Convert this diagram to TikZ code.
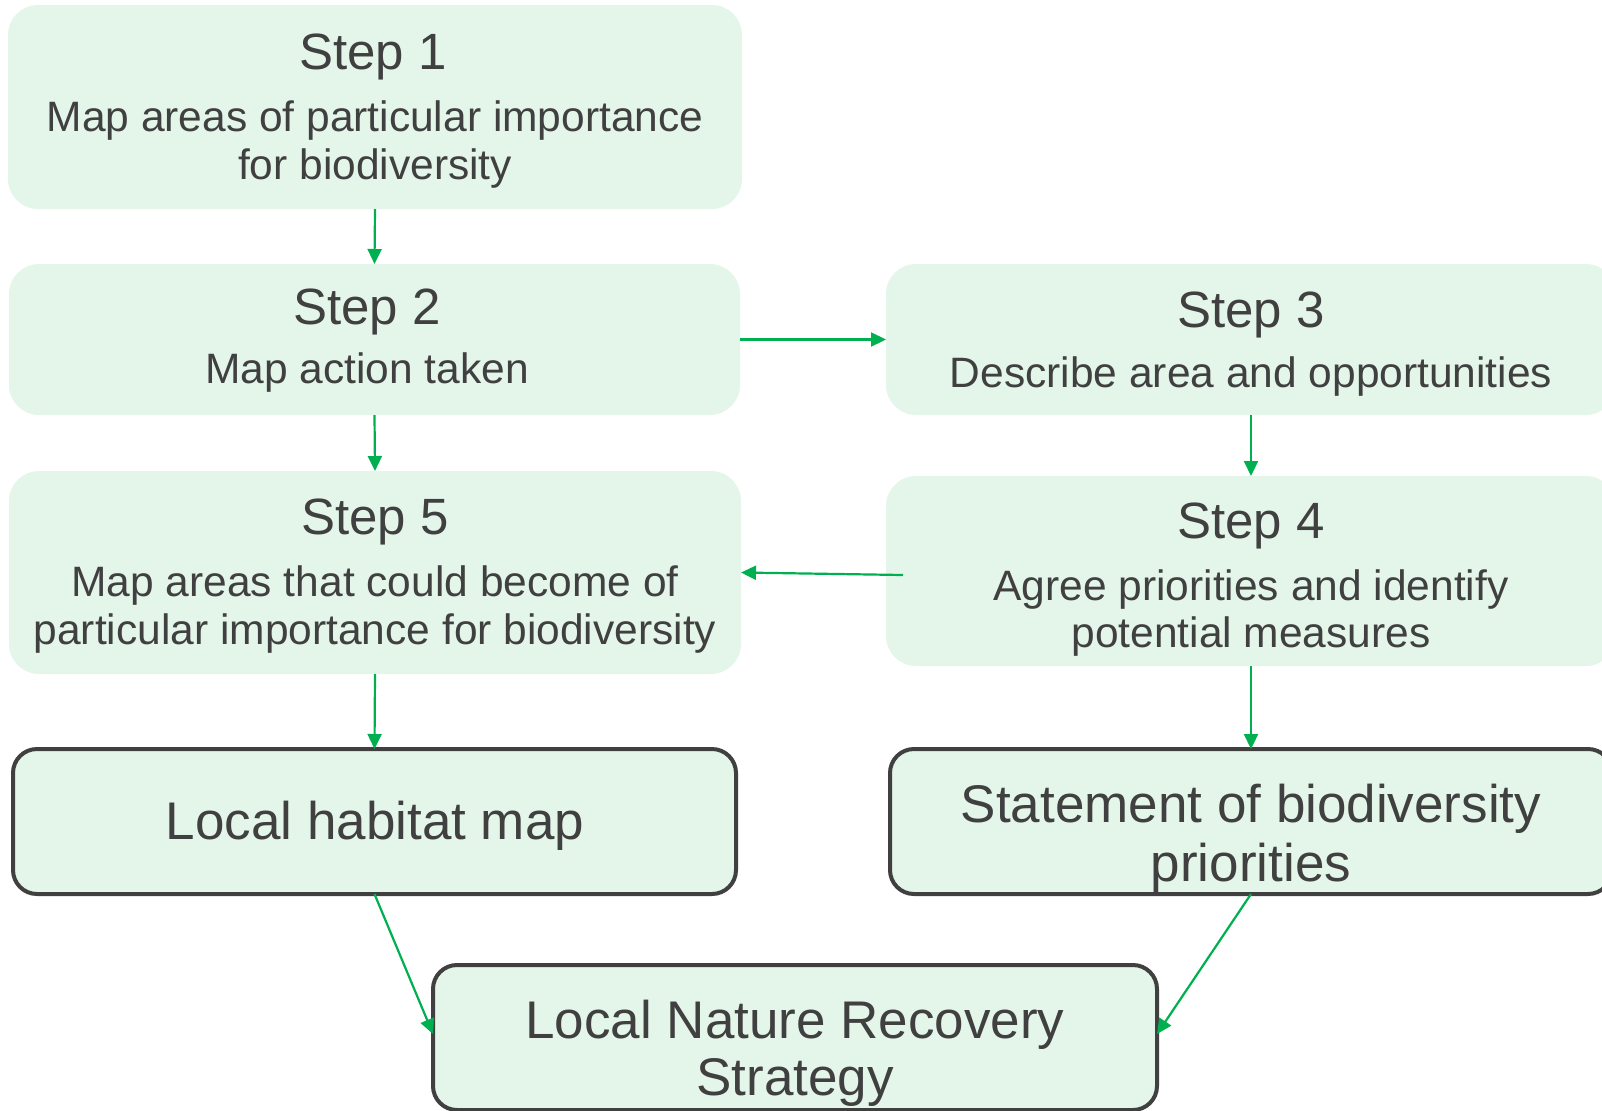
\documentclass[tikz,border=0pt]{standalone}
\usepackage{fontspec}
\setmainfont{Liberation Sans}
\usetikzlibrary{arrows.meta,calc}
\definecolor{boxfill}{RGB}{228,246,234}
\definecolor{txt}{RGB}{64,64,64}
\definecolor{arrowgreen}{RGB}{0,176,80}
\tikzset{
 stepbox/.style={rectangle, rounded corners=15pt, fill=boxfill, draw=none, inner sep=0pt, outer sep=0pt},
 outbox/.style={rectangle, rounded corners=12pt, fill=boxfill, draw=txt, line width=2pt, inner sep=0pt, outer sep=0pt},
 steptitle/.style={anchor=base, text=txt, font=\fontsize{25.5}{29}\selectfont, inner sep=0pt},
 stepbody/.style={anchor=base, text=txt, font=\fontsize{21.25}{24}\selectfont, inner sep=0pt},
 outtext/.style={anchor=base, text=txt, font=\fontsize{26.5}{30}\selectfont, inner sep=0pt},
 flow/.style={draw=arrowgreen, line width=1.1pt, -{Triangle[length=7.5pt,width=7pt]}},
}
\begin{document}
\begin{tikzpicture}[x=0.5pt,y=-0.5pt]
\useasboundingbox (0,0) rectangle (1602,1110);
% boxes
\node[stepbox, minimum width=367pt, minimum height=102pt] (s1) at (375,107) {};
\node[stepbox, minimum width=365.5pt, minimum height=75.5pt] (s2) at (374.5,339.5) {};
\node[stepbox, minimum width=365pt, minimum height=75.5pt] (s3) at (1251,339.5) {};
\node[stepbox, minimum width=365pt, minimum height=95pt] (s4) at (1251,571) {};
\node[stepbox, minimum width=366pt, minimum height=101.5pt] (s5) at (375,572.5) {};
\node[outbox, minimum width=361.5pt, minimum height=72.5pt] (hab) at (374.5,821.5) {};
\node[outbox, minimum width=361pt, minimum height=72.5pt] (stat) at (1251,821.5) {};
\node[outbox, minimum width=362pt, minimum height=72.5pt] (lnrs) at (795,1037.5) {};
% texts
\node[steptitle] (t1) at (373,69.5) {Step 1};
\node[stepbody] (b1a) at (375,131) {Map areas of particular importance};
\node[stepbody] (b1b) at (375,179) {for biodiversity};
\node[steptitle] (t2) at (367,324) {Step 2};
\node[stepbody] (b2a) at (367,383) {Map action taken};
\node[steptitle] (t3) at (1251,327) {Step 3};
\node[stepbody] (b3a) at (1251,387) {Describe area and opportunities};
\node[steptitle] (t4) at (1251,538) {Step 4};
\node[stepbody] (b4a) at (1251,600) {Agree priorities and identify};
\node[stepbody] (b4b) at (1251,647) {potential measures};
\node[steptitle] (t5) at (375,534) {Step 5};
\node[stepbody] (b5a) at (375,596) {Map areas that could become of};
\node[stepbody] (b5b) at (375,644) {particular importance for biodiversity};
\node[outtext] (habt) at (375,839) {Local habitat map};
\node[outtext] (stata) at (1251,822) {Statement of biodiversity};
\node[outtext] (statb) at (1251,881) {priorities};
\node[outtext] (lnrsa) at (795,1038) {Local Nature Recovery};
\node[outtext] (lnrsb) at (795,1095) {Strategy};
% connectors
\draw[flow] (s1.south) -- (s2.north);
\draw[flow] (s2.east) -- (s3.west);
\draw[flow] (s3.south) -- (s4.north);
\draw[flow] (s2.south) -- (s5.north);
\draw[flow] ([xshift=8.5pt,yshift=-2pt]s4.west) -- (s5.east);
\draw[flow] (s5.south) -- (hab.north);
\draw[flow] (s4.south) -- (stat.north);
\draw[flow] (hab.south) -- ([yshift=1.75pt]lnrs.west);
\draw[flow] (stat.south) -- ([yshift=1.75pt]lnrs.east);
\end{tikzpicture}
\end{document}
